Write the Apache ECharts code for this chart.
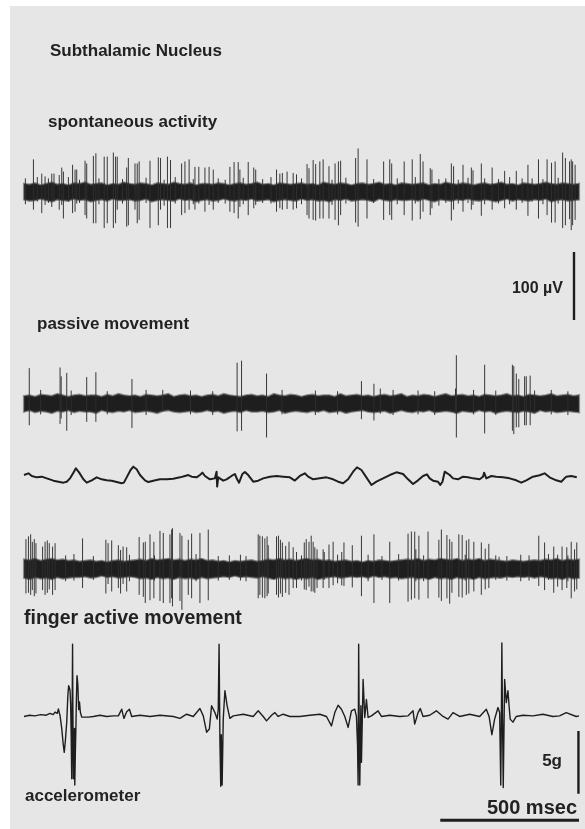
<!DOCTYPE html>
<html>
<head>
<meta charset="utf-8">
<script src="https://cdn.jsdelivr.net/npm/echarts@6/dist/echarts.min.js"></script>
<style>
  html, body { margin: 0; padding: 0; background: #ffffff; }
  #chart { width: 585px; height: 829px; }
</style>
</head>
<body>
<div id="chart"></div>
<script>
// ---- Recording parameters ----
const TIME_MAX = 2000;   // ms shown on every trace
const BAND_STEP = 20;    // ms between background-noise envelope samples

// ---- Spontaneous activity (µV) ----
const spontUpper = [
  12,11,13,10,12,14,11,12,10,13, 12,14,11,12,13,10,12,11,14,12,
  11,13,12,10,13,12,11,14,12,11, 13,10,12,12,11,13,12,10,12,13,
  11,12,14,11,12,10,13,12,11,12, 13,11,12,10,14,12,11,13,12,10,
  12,13,11,12,14,11,12,10,13,12, 11,12,13,10,12,11,14,12,11,13,
  12,10,12,13,11,12,14,11,12,10, 13,12,11,12,14,12,11,13,12,11, 12
];
const spontLower = [
  11,13,12,10,12,14,11,12,13,10, 12,11,14,12,11,13,10,12,12,11,
  13,12,10,14,12,11,12,13,10,12, 11,14,12,11,13,12,10,12,13,11,
  12,10,13,12,11,14,12,11,12,13, 10,12,11,13,12,14,11,12,10,13,
  12,11,12,14,10,12,13,11,12,12, 11,13,10,12,14,11,12,13,11,12,
  10,12,13,11,12,14,12,10,13,11, 12,13,11,12,10,14,12,11,13,12, 11
];
// [time ms, positive peak µV, negative peak µV]
const spontSpikes = [
  [34,48,26],[48,22,14],[64,27,31],[76,23,19],[100,27,22],[108,27,14],[127,25,26],[136,36,19],
  [142,30,39],[160,22,14],[175,40,31],[184,33,29],[190,33,17],[220,46,34],[226,42,39],[250,53,46],
  [259,57,46],[289,52,53],[300,52,46],[322,58,53],[330,52,46],[336,52,26],[370,36,51],[376,50,49],
  [400,42,26],[408,42,46],[415,45,41],[454,46,53],[484,51,49],[492,50,26],[517,52,53],[528,47,53],
  [568,42,34],[580,45,31],[595,48,26],[616,37,26],[630,37,17],[652,36,29],[667,37,19],[682,33,26],
  [742,37,29],[757,44,31],[772,44,39],[778,33,22],[808,44,34],[828,36,24],[835,33,19],[910,33,29],
  [922,27,24],[931,28,26],[948,30,25],[970,28,26],[982,26,24],
  [1020,41,34],[1027,35,39],[1042,47,41],[1051,41,42],[1066,45,39],[1078,48,39],[1099,38,39],
  [1121,42,41],[1133,45,49],[1141,46,34],[1195,50,45],[1204,64,51],[1236,48,39],[1296,45,41],
  [1318,48,34],[1325,42,41],[1370,45,34],[1399,48,42],[1428,56,40],[1438,45,29],[1464,35,34],
  [1470,33,24],[1540,42,42],[1548,38,26],[1582,40,29],[1612,36,26],[1618,32,19],[1648,42,35],
  [1687,36,26],[1732,31,24],[1774,31,26],[1816,40,35],[1831,20,14],[1854,48,39],[1885,48,34],
  [1901,43,45],[1914,45,45],[1941,58,53],[1951,50,49],[1966,45,40],[1972,48,56],[1977,45,49],
  [1986,40,41],
  [5,20,18],[88,20,16],[200,18,16],[270,20,18],[355,19,17],[440,21,16],[505,18,20],[545,22,17],
  [610,19,18],[700,20,16],[725,18,17],[790,21,18],[860,19,16],[890,22,17],[1000,20,18],[1110,18,19],
  [1160,21,17],[1260,19,16],[1345,20,18],[1410,22,17],[1495,19,20],[1520,20,16],[1565,18,17],
  [1600,21,16],[1660,20,18],[1710,19,17],[1750,22,18],[1795,20,16],[1870,19,18],[1925,21,17]
];

// ---- Passive movement (µV) ----
const passiveUpper = [
  11,12,10,13,12,11,14,12,10,12, 13,11,12,12,10,13,11,14,12,11,
  12,10,13,12,11,12,14,10,12,13, 11,12,10,12,13,11,14,12,11,10,
  12,13,11,12,10,14,12,11,13,12, 10,12,13,11,12,12,10,14,11,12,
  13,11,12,10,12,13,11,12,14,10, 12,11,13,12,10,12,14,11,12,13,
  11,12,10,13,12,11,12,14,11,12, 10,13,12,11,12,14,11,12,13,11, 12
];
const passiveLower = [
  12,10,13,11,12,14,11,12,10,13, 11,12,12,14,10,12,13,11,12,10,
  13,12,11,12,14,11,10,12,13,12, 11,13,12,10,12,11,14,12,11,13,
  10,12,12,11,13,12,10,14,12,11, 12,13,11,12,10,13,12,11,14,12,
  11,10,12,13,12,11,14,12,10,12, 13,11,12,10,13,12,11,12,14,11,
  12,13,10,12,11,14,12,11,12,13, 11,12,14,10,12,11,13,12,11,12, 13
];
const passiveSpikes = [
  [19,52,32],[130,53,30],[134,40,22],[154,45,40],[226,39,27],[259,46,27],[389,36,36],[500,20,12],
  [768,60,41],[784,63,40],[874,44,50],[1216,33,23],[1261,29,25],[1284,22,15],[1555,22,14],
  [1558,71,50],[1660,57,44],[1760,57,40],[1765,55,45],[1774,44,35],[1783,36,35],[1804,40,32],
  [1810,40,32],[1824,41,32],[1840,19,14],
  [60,20,16],[170,19,17],[300,18,16],[440,20,17],[600,19,16],[680,18,17],[930,20,16],[1050,19,17],
  [1130,18,16],[1330,20,17],[1420,19,16],[1480,18,17],[1620,20,16],[1700,19,17],[1900,20,16],[1960,18,17]
];

// ---- Slow movement-related potential under passive movement (µV) ----
const slowWave = [
  [0,2.9],[16,5.4],[28,1.5],[46,-0.5],[64,0.5],[82,-2],[106,-5.4],[124,-6.9],[142,-8.3],[154,-6.9],
  [166,-2],[178,6.4],[187,12.7],[199,6.4],[214,-3.4],[226,-8.3],[244,-4.9],[262,-0.5],[280,-3.4],
  [298,-4.9],[316,-5.4],[334,-7.4],[352,-9.3],[360,-8.3],[370,-0.5],[384,10.3],[394,15.2],[406,11.3],
  [418,2.9],[436,-4.9],[448,-7.4],[466,-5.4],[490,-3.4],[514,-3.4],[538,-2.5],[562,-0.5],[580,1.5],
  [592,2.9],[604,0.5],[622,-0.5],[634,2.9],[643,6.4],[652,1.5],[670,-3.4],[688,-2],[694,7.8],
  [696,-14],[700,-0.5],[706,-3.4],[718,-5.4],[730,-3.4],[748,1.5],[760,4.4],[768,-3.4],[775,-8.3],
  [787,4.4],[796,7.4],[808,2.9],[826,-6.9],[844,-5.4],[862,-2],[886,0.5],[910,1.5],[934,0.5],
  [958,-0.5],[976,-5.2],[994,1.5],[1012,5.4],[1024,0.5],[1042,-3.4],[1066,-2],[1090,-0.5],
  [1114,-3.4],[1132,-6.9],[1150,-9.3],[1168,-3.4],[1186,7.8],[1200,14.2],[1216,10.3],[1232,0.5],
  [1252,-11.8],[1270,-6.9],[1294,-2],[1318,2.9],[1342,6.9],[1366,4.4],[1384,-3.4],[1402,-10.3],
  [1420,-4.9],[1438,1.5],[1452,3.9],[1462,-2],[1474,-5.4],[1492,-6.9],[1500,-11.8],[1508,-6.9],
  [1516,7.8],[1522,9.3],[1534,2.9],[1546,-2],[1564,-3.4],[1582,0.5],[1600,-0.5],[1618,-2],
  [1642,-3.4],[1654,0.5],[1658,6.4],[1666,-2],[1684,1.5],[1702,0.5],[1726,-0.5],[1750,-2],
  [1774,-4.9],[1792,-8.3],[1810,-4.9],[1834,0.5],[1858,2.5],[1876,5.4],[1894,-0.5],[1918,-4.9],
  [1936,-6.9],[1954,0.5],[1972,1.5],[1992,-0.5]
];

// ---- Finger active movement (µV) ----
const fingerUpper = [
  14,13,15,12,14,15,13,14,12,13, 11,12,13,11,12,10,12,13,11,12,
  13,14,12,15,13,14,15,13,14,12, 14,13,15,12,13,11,12,10,12,11,
  12,13,11,12,14,13,15,13,14,12, 14,15,13,14,12,13,11,12,13,11,
  12,10,12,11,13,12,11,12,13,14, 13,15,12,14,13,15,14,13,15,12,
  14,13,15,12,14,13,12,11,13,12, 11,12,13,12,14,13,15,12,14,13, 14
];
const fingerLower = [
  13,15,12,14,13,15,12,14,13,12, 12,11,13,12,10,12,11,13,12,11,
  12,14,13,15,12,14,13,15,12,14, 13,15,12,14,13,12,11,12,10,12,
  11,12,13,11,13,15,12,14,13,15, 13,14,12,15,13,12,11,13,12,11,
  12,11,13,10,12,11,13,12,14,13, 12,14,13,15,12,14,13,15,12,14,
  13,15,12,14,13,12,13,11,12,11, 12,11,13,11,12,14,13,15,12,14, 13
];
const fingerSpikes = [
  [7,44,36],[16,48,35],[24,51,38],[30,40,31],[37,44,40],[43,38,36],[67,33,31],[76,40,38],[84,42,35],
  [91,38,30],[103,33,38],[112,38,31],[211,45,28],[295,43,36],[303,38,22],[316,42,33],[340,35,28],
  [348,28,36],[357,33,22],[370,32,33],[415,47,38],[430,39,41],[437,40,50],[454,51,46],[468,40,43],
  [490,56,47],[502,53,50],[526,51,50],[532,58,43],[535,60,55],[562,53,47],[569,49,60],[592,43,38],
  [604,52,43],[634,53,50],[664,58,46],[844,51,43],[850,49,38],[859,48,42],[868,45,43],[876,48,40],
  [880,35,36],[910,48,38],[917,49,42],[924,43,36],[931,39,41],[943,34,35],[955,40,38],[970,32,28],
  [982,25,28],
  [1010,39,30],[1017,44,31],[1027,40,26],[1035,49,33],[1042,40,33],[1048,32,35],[1056,29,28],
  [1078,29,28],[1082,25,16],[1099,36,28],[1114,40,24],[1130,21,21],[1145,25,24],[1153,39,25],
  [1183,35,27],[1216,49,40],[1261,51,50],[1318,40,50],[1384,52,48],[1396,55,45],[1408,55,43],
  [1412,29,18],[1423,49,45],[1456,55,43],[1495,43,42],[1504,58,47],[1524,50,43],[1534,44,51],
  [1542,40,35],[1567,51,41],[1579,50,42],[1594,42,38],[1603,44,36],[1621,40,33],[1648,39,38],
  [1662,30,30],[1675,37,28],[1712,18,14],[1855,49,25],[1876,39,31],[1909,33,35],[1923,21,26],
  [1939,33,31],[1956,32,28],[1972,40,43],[1984,29,33],[1992,39,30],
  [150,20,18],[180,22,17],[250,19,16],[380,21,18],[470,20,17],[620,22,18],[700,19,17],[740,20,16],
  [780,21,17],[800,19,18],[1000,20,17],[1240,21,18],[1290,19,16],[1350,22,17],[1440,20,18],
  [1590,21,17],[1700,20,16],[1740,19,17],[1790,21,18],[1820,20,17],[1890,22,16],[1960,20,18]
];

// ---- Accelerometer (g) ----
const accel = [
  [0,-0.05],[20,0.05],[40,0],[60,0.1],[80,0.05],[94,0.2],[105,0.1],[112,0.3],[120,0.2],[124,0.55],
  [130,0],[136,-1.0],[141,-2.2],[145,-2.9],[149,-2.0],[154,-0.5],[158,1.6],[161,2.4],[164,2.2],
  [166,2.0],[168,1.0],[170,-1.5],[172,-5.0],[174,2.0],[175,5.7],[176,1.0],[178,-5.0],[180,-3.9],
  [182,-1.0],[183,-5.5],[185,-3.0],[187,-1.0],[189,1.5],[191,3.2],[194,2.5],[197,0.5],[200,1.1],
  [203,0.3],[208,-0.1],[214,0.05],[232,-0.1],[250,-0.05],[274,0.05],[298,-0.05],[322,0],[340,0],
  [346,0.26],[352,0.53],[360,-0.2],[370,0.32],[380,0.53],[388,-0.05],[418,0.05],[454,-0.05],
  [490,0.05],[538,-0.05],[562,-0.2],[586,0.13],[610,-0.05],[634,0.58],[646,0],[658,-1.3],
  [668,-1.05],[676,0.8],[688,0.26],[696,-0.26],[700,0.5],[703,5.7],[706,-2.0],[709,-5.6],
  [711,-1.5],[714,-5.5],[718,-0.26],[724,2.0],[732,0.8],[742,-0.2],[754,0],[790,0.13],[826,-0.05],
  [844,0.4],[862,-0.05],[874,-0.4],[892,0.05],[904,0.26],[916,-0.05],[934,0.13],[958,-0.05],
  [994,-0.05],[1030,0.05],[1066,0.13],[1090,-0.05],[1108,-0.8],[1120,0.26],[1132,0.84],[1144,0.53],
  [1156,-0.05],[1168,-0.92],[1180,0.4],[1192,0.53],[1198,-0.05],[1202,-2.4],[1204,-5.5],
  [1206,5.7],[1208,-1.0],[1210,-5.5],[1214,0.8],[1216,-3.7],[1222,2.9],[1228,-0.13],[1234,1.3],
  [1240,-0.13],[1252,0],[1276,0.4],[1288,-0.05],[1318,0.05],[1354,-0.05],[1384,0],[1402,0.4],
  [1408,-0.66],[1420,0.26],[1428,0.58],[1438,-0.05],[1462,0.05],[1486,0.4],[1510,-0.05],
  [1528,-0.26],[1546,0.26],[1570,-0.05],[1606,0.13],[1642,-0.05],[1666,0.53],[1676,-0.05],
  [1686,-1.5],[1696,-0.26],[1708,0.66],[1714,0.26],[1718,-5.5],[1720,-1.0],[1722,5.8],[1724,0.5],
  [1727,-5.7],[1732,2.9],[1738,1.05],[1744,2.0],[1748,0.8],[1752,-0.26],[1762,-0.5],[1774,-0.05],
  [1798,0.05],[1834,0],[1870,0.13],[1906,-0.05],[1930,0],[1954,0.26],[1990,-0.05],[2000,0]
];

// ---- Calibration bars ----
const voltBar = { time: 1982, from: 0, to: 100 };      // 100 µV
const accelBar = { time: 1998, from: -1.2, to: -6.2 };  // 5 g
const timeBar = { from: 1500, to: 2000, level: -8.3 };  // 500 msec

// ---- Layout: one grid per trace, all sharing the same time scale ----
const X0 = 24, XW = 555;
const grids = [
  { left: X0, width: XW, top: 124,   height: 136 },  // 0 spontaneous
  { left: X0, width: XW, top: 335.5, height: 136 },  // 1 passive
  { left: X0, width: XW, top: 409,   height: 136 },  // 2 slow potential
  { left: X0, width: XW, top: 501,   height: 136 },  // 3 finger active
  { left: X0, width: XW, top: 252,   height: 68  },  // 4 µV calibration
  { left: X0, width: XW, top: 602.7, height: 228 }   // 5 accelerometer
];
const yRanges = [[-100,100],[-100,100],[-100,100],[-100,100],[0,100],[-9,9]];

const INK = '#1e1e1e';

// Background noise drawn as a filled envelope; a soft grey rim stands in for the fine noise hairs
function bandSeries(gi, upper, lower) {
  return {
    type: 'custom', xAxisIndex: gi, yAxisIndex: gi, silent: true, clip: false,
    data: [[0, 0]],
    renderItem: function (params, api) {
      const pts = [];
      for (let i = 0; i < upper.length; i++) pts.push(api.coord([i * BAND_STEP, upper[i]]));
      for (let i = lower.length - 1; i >= 0; i--) pts.push(api.coord([i * BAND_STEP, -lower[i]]));
      return { type: 'polygon', shape: { points: pts },
               style: { fill: INK, stroke: 'rgba(60,60,60,0.55)', lineWidth: 2.2 } };
    }
  };
}

function spikeSeries(gi, spikes) {
  return {
    type: 'custom', xAxisIndex: gi, yAxisIndex: gi, silent: true, clip: false,
    data: spikes,
    renderItem: function (params, api) {
      const a = api.coord([api.value(0), api.value(1)]);
      const b = api.coord([api.value(0), -api.value(2)]);
      return { type: 'line', shape: { x1: a[0], y1: a[1], x2: b[0], y2: b[1] },
               style: { stroke: '#2e2e2e', lineWidth: 0.95 } };
    }
  };
}

function traceSeries(gi, data, width) {
  return {
    type: 'line', xAxisIndex: gi, yAxisIndex: gi, data: data, silent: true,
    showSymbol: false, symbol: 'none', smooth: false, clip: false,
    lineStyle: { color: INK, width: width, join: 'round' }
  };
}

function label(text, x, y, size, align) {
  return {
    type: 'text', x: x, y: y, z: 10,
    style: { text: text, fill: '#222222', align: align, verticalAlign: 'middle',
             font: 'bold ' + size + 'px "Liberation Sans", Arial, sans-serif' }
  };
}

const option = {
  animation: false,
  backgroundColor: 'transparent',
  grid: grids,
  xAxis: grids.map((g, i) => ({ type: 'value', gridIndex: i, min: 0, max: TIME_MAX, show: false })),
  yAxis: grids.map((g, i) => ({ type: 'value', gridIndex: i, min: yRanges[i][0], max: yRanges[i][1], show: false })),
  series: [
    bandSeries(0, spontUpper, spontLower),
    spikeSeries(0, spontSpikes),
    bandSeries(1, passiveUpper, passiveLower),
    spikeSeries(1, passiveSpikes),
    traceSeries(2, slowWave, 2),
    bandSeries(3, fingerUpper, fingerLower),
    spikeSeries(3, fingerSpikes),
    traceSeries(5, accel, 1.4),
    traceSeries(4, [[voltBar.time, voltBar.from], [voltBar.time, voltBar.to]], 2.4),
    traceSeries(5, [[accelBar.time, accelBar.from], [accelBar.time, accelBar.to]], 2.4),
    traceSeries(5, [[timeBar.from, timeBar.level], [timeBar.to, timeBar.level]], 3)
  ],
  graphic: [
    { type: 'rect', z: -10, shape: { x: 10, y: 6, width: 575, height: 823 }, style: { fill: '#e6e6e6' } },
    label('Subthalamic Nucleus', 50, 51, 17, 'left'),
    label('spontaneous activity', 48, 122.3, 17, 'left'),
    label('100 µV', 563, 288.9, 16, 'right'),
    label('passive movement', 37, 324.6, 17, 'left'),
    label('finger active movement', 24, 618.8, 19.5, 'left'),
    label('accelerometer', 25, 796.3, 17, 'left'),
    label('5g', 562, 761.3, 17, 'right'),
    label('500 msec', 577, 808.6, 20, 'right')
  ]
};

const chart = echarts.init(document.getElementById('chart'), null, { renderer: 'canvas' });
chart.setOption(option);
</script>
</body>
</html>
